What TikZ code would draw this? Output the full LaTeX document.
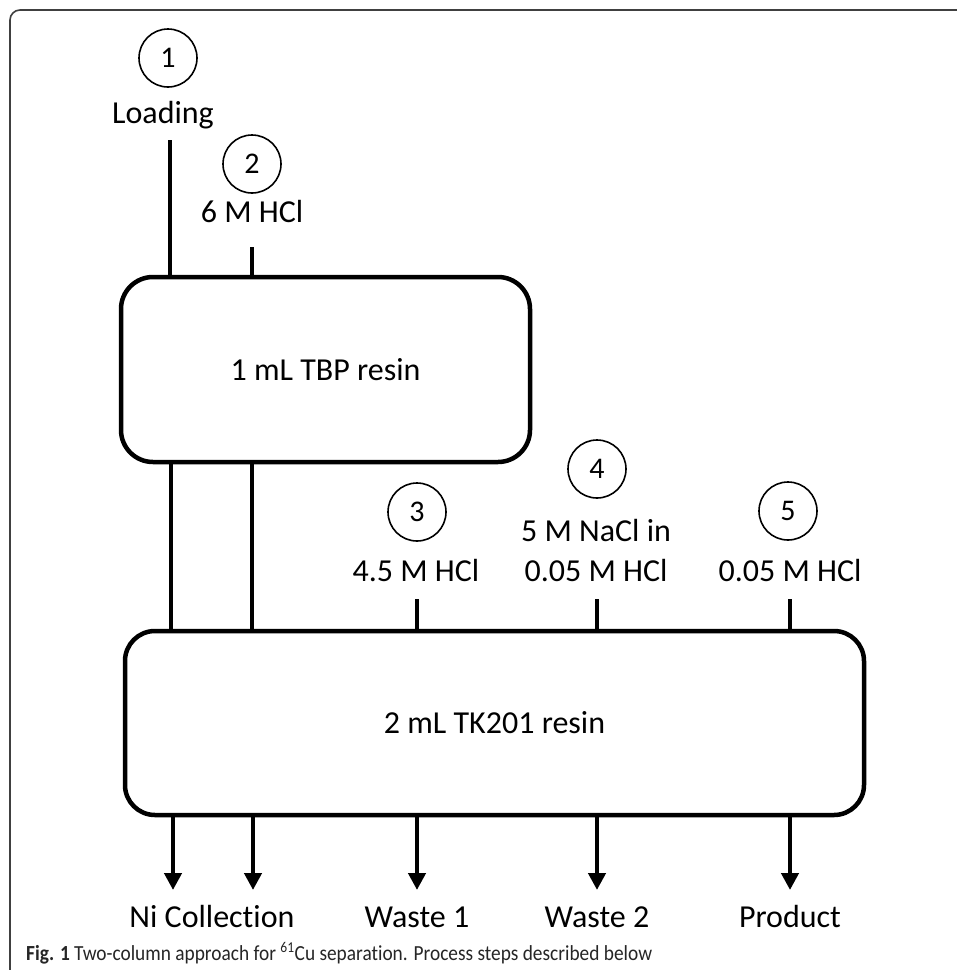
\documentclass[tikz,border=0pt]{standalone}
\usepackage{fontspec}
\setmainfont{Carlito}[Ligatures=NoCommon]
\newfontfamily\capfont{Carlito}[FakeStretch=0.9, Ligatures=NoCommon]
\usetikzlibrary{arrows.meta}
\tikzset{
  x=1pt, y=-1pt,
  pipe/.style={line width=4.5pt, black},
  resin/.style={draw, line width=4.5pt, rounded corners=#1, inner sep=0pt, font=\fontsize{32}{38}\selectfont},
  stepnum/.style={draw, circle, line width=1.6pt, minimum size=58pt, inner sep=0pt, font=\fontsize{30}{34}\selectfont},
  lbl/.style={anchor=base, inner sep=0pt, font=\fontsize{32}{38}\selectfont},
  outarrow/.style={pipe, -{Triangle[width=17pt,length=17pt]}},
  frame/.style={line width=1.6pt, draw=black!75, rounded corners=10pt}
}
\begin{document}
\begin{tikzpicture}
\useasboundingbox (0,0) rectangle (957,970);
\fill[white] (0,0) rectangle (957,970);
\draw[frame] (957,10) -- (10,10) -- (10,970);

% resin columns
\node[resin=32pt, minimum width=409pt, minimum height=185pt] (tbp) at (325.5,369.5) {1 mL TBP resin};
\node[resin=30pt, minimum width=739pt, minimum height=184pt] (tk) at (494.5,723) {2 mL TK201 resin};

% step circles
\node[stepnum] (c1) at (168,58) {1};
\node[stepnum] (c2) at (252,164) {2};
\node[stepnum] (c3) at (417,512) {3};
\node[stepnum] (c4) at (597,469) {4};
\node[stepnum] (c5) at (788,511) {5};

% step labels
\node[lbl] (load) at (163,123) {Loading};
\node[lbl] (hcl6) at (252,222) {6 M HCl};
\node[lbl] (hcl45) at (416,581) {4.5 M HCl};
\node[lbl] (nacl) at (596,541) {5 M NaCl in};
\node[lbl] (hcl4) at (596,581) {0.05 M HCl};
\node[lbl] (hcl5) at (790,581) {0.05 M HCl};

% inlet line ends
\coordinate (inA) at (170,140);
\coordinate (inB) at (252,247);
\coordinate (inC) at (417,599);
\coordinate (inD) at (597,599);
\coordinate (inE) at (790,599);

\draw[pipe] (inA) -- (inA |- tbp.north);
\draw[pipe] (inB) -- (inB |- tbp.north);
\draw[pipe] (inC) -- (inC |- tk.north);
\draw[pipe] (inD) -- (inD |- tk.north);
\draw[pipe] (inE) -- (inE |- tk.north);

% between columns
\coordinate (mA) at (171,0);
\coordinate (mB) at (252,0);
\draw[pipe] (mA |- tbp.south) -- (mA |- tk.north);
\draw[pipe] (mB |- tbp.south) -- (mB |- tk.north);

% outlets
\coordinate (o1) at (173,890);
\coordinate (o2) at (253,890);
\coordinate (o3) at (417,890);
\coordinate (o4) at (597,890);
\coordinate (o5) at (790,890);
\foreach \o in {o1,o2,o3,o4,o5}
  \draw[outarrow] (\o |- tk.south) -- (\o);

% outlet labels
\node[lbl] (ni) at (212,927) {Ni Collection};
\node[lbl] (w1) at (417,927) {Waste 1};
\node[lbl] (w2) at (597,927) {Waste 2};
\node[lbl] (prod) at (790,927) {Product};

% caption
\node[anchor=base west, inner sep=0pt, font=\capfont\fontsize{21.5}{25}\selectfont, text=black!85] (cap) at (26,960)
  {\textbf{Fig. 1} Two-column approach for \textsuperscript{61}Cu separation. Process steps described below};
\end{tikzpicture}
\end{document}
